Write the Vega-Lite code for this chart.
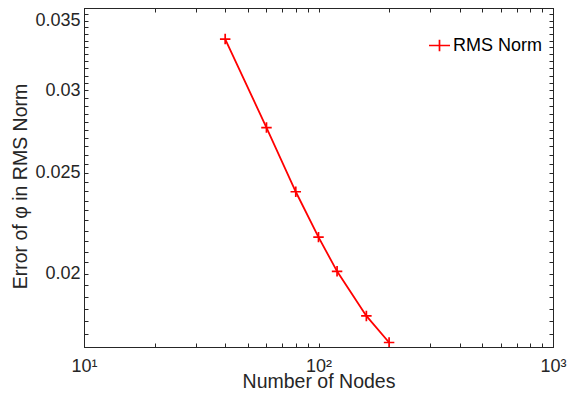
{
  "$schema": "https://vega.github.io/schema/vega-lite/v6.json",
  "width": 469,
  "height": 339,
  "autosize": {"type": "none"},
  "padding": {"left": 84, "top": 8, "right": 14, "bottom": 49},
  "background": "white",
  "config": {
    "font": "Liberation Sans",
    "view": {"stroke": "#262626", "strokeWidth": 1},
    "axis": {
      "domainColor": "#262626",
      "domainWidth": 1,
      "tickColor": "#262626",
      "tickWidth": 1,
      "tickSize": -4,
      "labelColor": "#262626",
      "labelFontSize": 18,
      "labelFont": "Liberation Sans",
      "titleColor": "#262626",
      "titleFontSize": 19.5,
      "titleFontWeight": "normal",
      "titleFont": "Liberation Sans",
      "grid": false,
      "labelOverlap": false,
      "labelFlush": false
    }
  },
  "data": {
    "values": [
      {"N": 40, "err": 0.03361, "series": "RMS Norm"},
      {"N": 60, "err": 0.02763, "series": "RMS Norm"},
      {"N": 80, "err": 0.02397, "series": "RMS Norm"},
      {"N": 100, "err": 0.02168, "series": "RMS Norm"},
      {"N": 120, "err": 0.02010, "series": "RMS Norm"},
      {"N": 160, "err": 0.01821, "series": "RMS Norm"},
      {"N": 200, "err": 0.01717, "series": "RMS Norm"}
    ]
  },
  "layer": [
    {
      "mark": {
        "type": "line",
        "strokeWidth": 1.8,
        "clip": true,
        "point": {"shape": "M-1,0H1M0,-1V1", "size": 110, "filled": false, "strokeWidth": 1.7, "color": "#ff0000"}
      },
      "encoding": {
        "x": {
          "field": "N", "type": "quantitative",
          "scale": {"type": "log", "domain": [10, 1000], "nice": false},
          "axis": {
            "values": [10, 20, 30, 40, 50, 60, 70, 80, 90, 100, 200, 300, 400, 500, 600, 700, 800, 900, 1000],
            "labelExpr": "datum.value == 10 ? '10¹' : datum.value == 100 ? '10²' : datum.value == 1000 ? '10³' : ''",
            "labelPadding": 14,
            "title": "Number of Nodes",
            "titlePadding": -3
          }
        },
        "y": {
          "field": "err", "type": "quantitative",
          "scale": {"type": "log", "domain": [0.017, 0.036], "nice": false},
          "axis": {
            "values": [0.017, 0.0175, 0.018, 0.0185, 0.019, 0.0195, 0.02, 0.0205, 0.021, 0.0215, 0.022, 0.0225, 0.023, 0.0235, 0.024, 0.0245, 0.025, 0.0255, 0.026, 0.0265, 0.027, 0.0275, 0.028, 0.0285, 0.029, 0.0295, 0.03, 0.0305, 0.031, 0.0315, 0.032, 0.0325, 0.033, 0.0335, 0.034, 0.0345, 0.035, 0.0355, 0.036],
            "labelExpr": "datum.value == 0.02 ? '0.02' : datum.value == 0.025 ? '0.025' : datum.value == 0.03 ? '0.03' : datum.value == 0.035 ? '0.035' : ''",
            "labelPadding": 8,
            "title": "Error of φ in RMS Norm",
            "titlePadding": 4,
            "titleY": 178
          }
        },
        "color": {
          "field": "series", "type": "nominal",
          "scale": {"domain": ["RMS Norm"], "range": ["#ff0000"]},
          "legend": {
            "orient": "none",
            "legendX": 344,
            "legendY": 26,
            "title": null,
            "padding": 0,
            "symbolType": "M-1,0H1M0,-0.55V0.55",
            "symbolSize": 441,
            "symbolStrokeWidth": 1.7,
            "symbolStrokeColor": "#ff0000",
            "symbolFillColor": "transparent",
            "labelFontSize": 18,
            "labelColor": "#000000",
            "labelOffset": 2,
            "labelFont": "Liberation Sans"
          }
        }
      }
    },
    {
      "mark": {"type": "point", "opacity": 0},
      "encoding": {
        "x": {
          "field": "N", "type": "quantitative",
          "axis": {
            "orient": "top",
            "values": [10, 20, 30, 40, 50, 60, 70, 80, 90, 100, 200, 300, 400, 500, 600, 700, 800, 900, 1000],
            "labels": false,
            "title": null
          }
        },
        "y": {
          "field": "err", "type": "quantitative",
          "axis": {
            "orient": "right",
            "values": [0.017, 0.0175, 0.018, 0.0185, 0.019, 0.0195, 0.02, 0.0205, 0.021, 0.0215, 0.022, 0.0225, 0.023, 0.0235, 0.024, 0.0245, 0.025, 0.0255, 0.026, 0.0265, 0.027, 0.0275, 0.028, 0.0285, 0.029, 0.0295, 0.03, 0.0305, 0.031, 0.0315, 0.032, 0.0325, 0.033, 0.0335, 0.034, 0.0345, 0.035, 0.0355, 0.036],
            "labels": false,
            "title": null
          }
        }
      }
    }
  ],
  "resolve": {"axis": {"x": "independent", "y": "independent"}}
}
